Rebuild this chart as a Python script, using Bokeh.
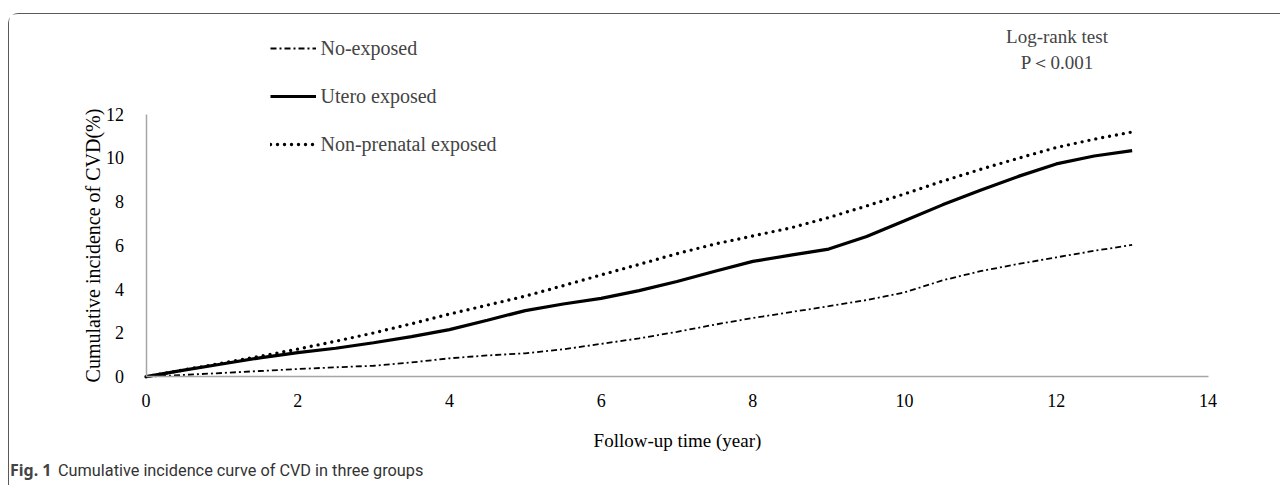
from bokeh.plotting import figure
from bokeh.models import Range1d, Legend, LegendItem, Label, FixedTicker, LinearAxis
from bokeh.embed import file_html
from bokeh.resources import INLINE

# ---- data ----
years = [0, 0.5, 1, 1.5, 2, 2.5, 3, 3.5, 4, 4.5, 5, 5.5, 6, 6.5, 7, 7.5,
         8, 8.5, 9, 9.5, 10, 10.5, 11, 11.5, 12, 12.5, 13]
no_exposed = [0, 0.08, 0.17, 0.26, 0.35, 0.43, 0.50, 0.65, 0.84, 0.97, 1.07,
              1.25, 1.50, 1.75, 2.05, 2.38, 2.68, 2.95, 3.22, 3.50, 3.85,
              4.40, 4.82, 5.15, 5.45, 5.75, 6.02]
utero_exposed = [0, 0.30, 0.58, 0.86, 1.10, 1.30, 1.55, 1.83, 2.15, 2.58, 3.02,
                 3.32, 3.58, 3.93, 4.35, 4.82, 5.27, 5.55, 5.83, 6.40, 7.12,
                 7.85, 8.52, 9.15, 9.72, 10.08, 10.33]
non_prenatal = [0, 0.31, 0.62, 0.93, 1.26, 1.62, 2.00, 2.42, 2.86, 3.27, 3.68,
                4.16, 4.65, 5.13, 5.62, 6.06, 6.43, 6.80, 7.27, 7.80, 8.35,
                8.93, 9.47, 9.98, 10.47, 10.85, 11.18]
series_names = ["No-exposed", "Utero exposed", "Non-prenatal exposed"]
x_ticks = [0, 2, 4, 6, 8, 10, 12, 14]
y_ticks = [0, 2, 4, 6, 8, 10, 12]
x_bounds = (0, 14)
y_bounds = (0, 12)
x_title = "Follow-up time (year)"
y_title = "Cumulative incidence of CVD(%)"
test_lines = ["Log-rank test", "P\uff1c0.001"]
caption_bold = "Fig. 1"
caption_text = "Cumulative incidence curve of CVD in three groups"

SERIF = "Liberation Serif"

# ---- layout (pixels) ----
W, H = 1272, 472            # canvas size
ML, MT, BW = 8, 13, 1.5     # page margin left/top, border width
OX, OY = ML + BW, MT + BW   # canvas origin on the page
AX_LEFT, AX_RIGHT = 146.0, 1208.0   # page x of x=0 and x=14
AX_BOTTOM, AX_TOP = 376.7, 114.0    # page y of y=0 and y=12

kx = (AX_RIGHT - AX_LEFT) / (x_bounds[1] - x_bounds[0])
ky = (AX_BOTTOM - AX_TOP) / (y_bounds[1] - y_bounds[0])
x_start = x_bounds[0] - (AX_LEFT - OX) / kx
y_start = y_bounds[0] - (OY + H - AX_BOTTOM) / ky


def sx(page_x):
    return page_x - OX


def sy(page_y):
    return OY + H - page_y


p = figure(width=W, height=H,
           min_border_left=0, min_border_right=0,
           min_border_top=0, min_border_bottom=0,
           x_range=Range1d(x_start, x_start + W / kx),
           y_range=Range1d(y_start, y_start + H / ky),
           x_axis_type=None, y_axis_type=None,
           output_backend="svg", toolbar_location=None)
p.margin = (MT, 0, 0, ML)
p.styles = {"border-top": f"{BW}px solid #5a5a5a",
            "border-left": f"{BW}px solid #5a5a5a",
            "border-top-left-radius": "10px"}
p.outline_line_color = None
p.xgrid.visible = False
p.ygrid.visible = False

xaxis = LinearAxis(fixed_location=0, bounds=x_bounds,
                   ticker=FixedTicker(ticks=x_ticks), axis_label=x_title)
yaxis = LinearAxis(fixed_location=0, bounds=y_bounds,
                   ticker=FixedTicker(ticks=y_ticks), axis_label=y_title)
p.add_layout(xaxis, "below")
p.add_layout(yaxis, "left")

for ax in (xaxis, yaxis):
    ax.axis_line_color = "#a6a6a6"
    ax.axis_line_width = 1.5
    ax.major_tick_line_color = None
    ax.minor_tick_line_color = None
    ax.major_label_text_font = SERIF
    ax.major_label_text_font_size = "18px"
    ax.major_label_text_color = "black"
    ax.axis_label_text_font = SERIF
    ax.axis_label_text_font_style = "normal"
    ax.axis_label_text_color = "black"

xaxis.axis_label_text_font_size = "19px"
yaxis.axis_label_text_font_size = "20px"
xaxis.major_label_standoff = 11
xaxis.axis_label_standoff = 20
yaxis.major_label_standoff = 16
yaxis.axis_label_standoff = 0

r1 = p.line(years, no_exposed, line_color="black", line_width=1.8,
            line_dash="6 3 2 3")
r2 = p.line(years, utero_exposed, line_color="black", line_width=3.2)
r3 = p.line(years, non_prenatal, line_color="black", line_width=3.4,
            line_dash="0 7", line_cap="round")

legend = Legend(items=[LegendItem(label=series_names[0], renderers=[r1]),
                       LegendItem(label=series_names[1], renderers=[r2]),
                       LegendItem(label=series_names[2], renderers=[r3])],
                location=(sx(270), sy(156)), glyph_width=46, glyph_height=20,
                label_height=20, spacing=25, padding=0, margin=0,
                label_standoff=5, border_line_color=None,
                background_fill_alpha=0,
                label_text_font=SERIF, label_text_font_size="20px")
p.add_layout(legend, "center")

for txt, py in zip(test_lines, (36, 62)):
    p.add_layout(Label(x=sx(1057), y=sy(py), x_units="screen", y_units="screen",
                       text=txt, text_align="center",
                       text_baseline="middle", text_font=SERIF,
                       text_font_size="19px"))

p.add_layout(Label(x=sx(10), y=sy(470), x_units="screen", y_units="screen",
                   text=caption_bold, text_align="left",
                   text_baseline="middle", text_font="Noto Sans",
                   text_font_style="bold", text_font_size="16px"))
p.add_layout(Label(x=sx(58), y=sy(470), x_units="screen", y_units="screen",
                   text=caption_text, text_align="left",
                   text_baseline="middle", text_font="Roboto",
                   text_font_size="16.3px", text_color="#333333"))

open("out.html", "w").write(file_html(p, INLINE))
